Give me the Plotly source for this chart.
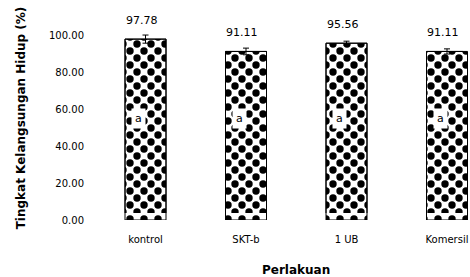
import plotly.graph_objects as go

categories = ["kontrol", "SKT-b", "1 UB", "Komersil"]
values = [97.78, 91.11, 95.56, 91.11]
errors = [2.2, 1.8, 1.1, 1.4]
value_labels = ["97.78", "91.11", "95.56", "91.11"]
letters = ["a", "a", "a", "a"]
y_ticks = [0, 20, 40, 60, 80, 100]
y_ticktext = ["0.00", "20.00", "40.00", "60.00", "80.00", "100.00"]

W, H = 470, 277
L, R, T, B = 88, 0, 9, 57
PW, PH = W - L - R, H - T - B
SH = 7  # pattern offset (px) between the two dot lattices
PXU = 100.5  # px per category
C0 = 145.5   # pixel of first category
PYU = 1.85   # px per y unit
Y0 = 220     # pixel of y = 0

pos = list(range(len(categories)))
font = "DejaVu Sans"

def xr(left_px, right_px):
    return [(left_px - C0) / PXU, (right_px - C0) / PXU]

def yr(bottom_px, top_px):
    return [(Y0 - bottom_px) / PYU, (Y0 - top_px) / PYU]

fig = go.Figure()
fig.add_trace(go.Bar(
    x=pos, y=values, width=0.408, xaxis="x", yaxis="y",
    marker=dict(color="white", line=dict(color="black", width=1),
                pattern=dict(shape=".", size=14, solidity=0.22,
                             fgcolor="black", bgcolor="white", fillmode="replace",
                             fgopacity=1)),
    cliponaxis=False, showlegend=False, hoverinfo="skip",
))
fig.add_trace(go.Bar(
    x=pos, y=values, width=0.408, xaxis="x2", yaxis="y2",
    marker=dict(color="rgba(0,0,0,0)", line=dict(color="black", width=1),
                pattern=dict(shape=".", size=14, solidity=0.22,
                             fgcolor="black", fillmode="overlay", fgopacity=1)),
    error_y=dict(type="data", array=errors, color="black", thickness=1, width=3),
    cliponaxis=False, showlegend=False, hoverinfo="skip",
))

for i, (v, e, t) in enumerate(zip(values, errors, value_labels)):
    fig.add_annotation(x=i, y=v, xref="x", yref="y", text=t, showarrow=False,
                       yshift=19, xshift=-4, font=dict(family=font, size=11, color="black"))
for i, t in enumerate(letters):
    fig.add_annotation(x=i, y=55, xref="x", yref="y", text=t, showarrow=False,
                       xshift=-7, bgcolor="white", borderpad=3,
                       font=dict(family=font, size=11, color="black"))

fig.add_annotation(x=(296 - L) / PW, y=-0.235, xref="paper", yref="paper",
                   text="<b>Perlakuan</b>", showarrow=False, yanchor="middle",
                   font=dict(family=font, size=12, color="black"))

fig.update_layout(
    width=W, height=H, margin=dict(l=L, r=R, t=T, b=B),
    paper_bgcolor="white", plot_bgcolor="rgba(0,0,0,0)",
    barmode="overlay",
    font=dict(family=font, size=10, color="black"),
    xaxis=dict(domain=[SH / PW, 1], range=xr(95, 470), tickvals=pos, ticktext=categories,
               showgrid=False, zeroline=False, showline=False, ticks="",
               ticklabelstandoff=12, tickfont=dict(size=10)),
    yaxis=dict(domain=[0, (PH - SH) / PH], range=yr(220, 16), tickvals=y_ticks,
               ticktext=y_ticktext, showgrid=False, zeroline=False, showline=False,
               ticks="", ticklabelstandoff=10, tickfont=dict(size=10),
               title=dict(text="<b>Tingkat Kelangsungan Hidup (%)</b>",
                          font=dict(size=12), standoff=20)),
    xaxis2=dict(domain=[0, (PW - SH) / PW], range=xr(88, 463), visible=False, anchor="y2"),
    yaxis2=dict(domain=[SH / PH, 1], range=yr(213, 9), visible=False, anchor="x2"),
)

fig.write_html("out.html", post_script="document.body.style.margin='0';",
               config={"displayModeBar": False})
